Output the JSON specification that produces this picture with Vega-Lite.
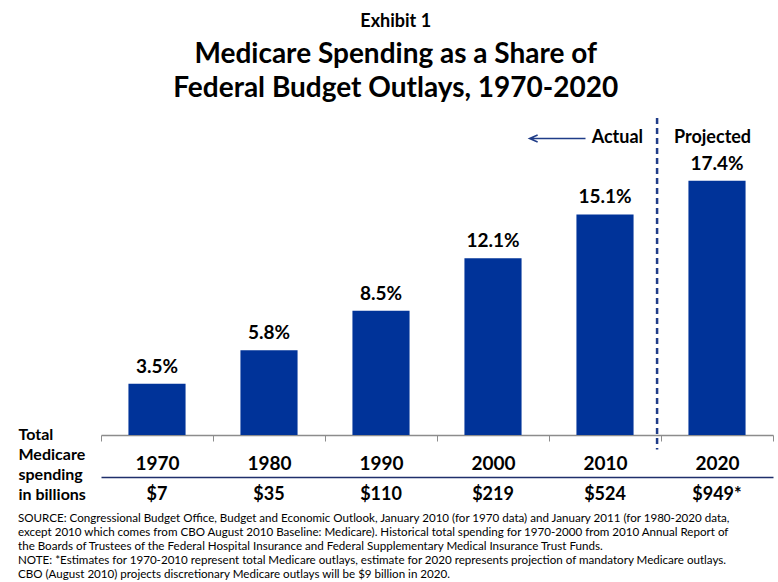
{
  "$schema": "https://vega.github.io/schema/vega-lite/v6.json",
  "padding": {"left": 18, "top": 12, "right": 5, "bottom": 0},
  "config": {"view": {"stroke": null}, "font": "Lato"},
  "datasets": {
    "m": [
      {"year": "1970", "share": 3.5, "spending": "$7"},
      {"year": "1980", "share": 5.8, "spending": "$35"},
      {"year": "1990", "share": 8.5, "spending": "$110"},
      {"year": "2000", "share": 12.1, "spending": "$219"},
      {"year": "2010", "share": 15.1, "spending": "$524"},
      {"year": "2020", "share": 17.4, "spending": "$949*"}
    ]
  },
  "title": {
    "text": [
      "SOURCE:  Congressional Budget Office, Budget and Economic Outlook, January 2010 (for 1970 data) and January 2011 (for 1980-2020 data,",
      "except 2010 which comes from CBO August 2010 Baseline: Medicare).  Historical total spending for 1970-2000 from 2010 Annual Report of",
      "the Boards of Trustees of the Federal Hospital Insurance and Federal Supplementary Medical Insurance Trust Funds.",
      "NOTE: *Estimates for 1970-2010 represent total Medicare outlays, estimate for 2020 represents projection of mandatory Medicare outlays.",
      "CBO (August 2010) projects discretionary Medicare outlays will be $9 billion in 2020."
    ],
    "orient": "bottom",
    "anchor": "start",
    "font": "Lato",
    "fontSize": 11.6,
    "fontWeight": "normal",
    "lineHeight": 14,
    "offset": 0,
    "color": "black"
  },
  "bounds": "flush",
  "spacing": 42,
  "vconcat": [
    {
      "width": 672,
      "height": 317,
      "data": {"name": "m"},
      "title": {
        "text": "Exhibit 1",
        "subtitle": ["Medicare Spending as a Share of", "Federal Budget Outlays, 1970-2020"],
        "anchor": "middle",
        "frame": "bounds",
        "font": "Lato",
        "fontSize": 18,
        "fontWeight": "bold",
        "color": "black",
        "subtitleFont": "Lato",
        "subtitleFontSize": 28,
        "subtitleFontWeight": "bold",
        "subtitleColor": "black",
        "subtitleLineHeight": 34,
        "subtitlePadding": 10,
        "offset": 14
      },
      "layer": [
        {
          "mark": {"type": "bar", "color": "#003399", "width": {"band": 0.51}},
          "encoding": {
            "x": {
              "field": "year", "type": "nominal",
              "scale": {"paddingInner": 0, "paddingOuter": 0},
              "axis": {
                "orient": "bottom", "title": null, "labelAngle": 0,
                "domainColor": "#8c8c8c", "domainWidth": 1.5,
                "tickColor": "#8c8c8c", "tickBand": "extent", "tickSize": 6,
                "labelFont": "Lato", "labelFontSize": 19, "labelFontWeight": "bold",
                "labelColor": "black", "labelPadding": 13
              }
            },
            "y": {
              "field": "share", "type": "quantitative",
              "scale": {"domain": [0, 21.7], "nice": false},
              "axis": {
                "domain": false, "ticks": false, "labels": false, "grid": false,
                "title": ["Total", "Medicare", "spending", "in billions"],
                "titleAngle": 0, "titleAlign": "left", "titleBaseline": "top",
                "titleX": -83, "titleY": 308,
                "titleFont": "Lato", "titleFontSize": 16, "titleFontWeight": "bold",
                "titleLineHeight": 20, "titleColor": "black"
              }
            }
          }
        },
        {
          "mark": {"type": "text", "baseline": "bottom", "dy": -7, "fontSize": 19, "fontWeight": "bold", "color": "black",
                   "text": {"expr": "format(datum.share, '.1f') + '%'"}},
          "encoding": {
            "x": {"field": "year", "type": "nominal"},
            "y": {"field": "share", "type": "quantitative"}
          }
        },
        {
          "data": {"values": [{}]},
          "mark": {"type": "rule", "strokeDash": [6, 4], "strokeWidth": 2.5, "color": "#1f3c88"},
          "encoding": {
            "x": {"datum": "2020", "bandPosition": -0.035},
            "y": {"datum": 21.7},
            "y2": {"datum": -1}
          }
        },
        {
          "data": {"values": [{}]},
          "mark": {"type": "text", "align": "right", "baseline": "middle", "fontSize": 18, "fontWeight": "bold", "color": "black", "text": "Actual"},
          "encoding": {
            "x": {"datum": "2010", "bandPosition": 0.84},
            "y": {"datum": 20.3}
          }
        },
        {
          "data": {"values": [{}]},
          "mark": {"type": "text", "align": "center", "baseline": "middle", "fontSize": 18, "fontWeight": "bold", "color": "black", "text": "Projected"},
          "encoding": {
            "x": {"datum": "2020", "bandPosition": 0.46},
            "y": {"datum": 20.3}
          }
        },
        {
          "data": {"values": [{}]},
          "mark": {"type": "point", "shape": "M-1,0L1,0M-0.71,-0.125L-1,0L-0.71,0.125", "size": 3136, "filled": false, "strokeWidth": 1.5, "color": "#1f3c88", "opacity": 1},
          "encoding": {
            "x": {"datum": "2010", "bandPosition": 0.076},
            "y": {"datum": 20.3}
          }
        }
      ]
    },
    {
      "width": 672,
      "height": 36,
      "data": {"name": "m"},
      "mark": {"type": "text", "fontSize": 18, "fontWeight": "bold", "baseline": "middle", "color": "black"},
      "encoding": {
        "x": {
          "field": "year", "type": "nominal",
          "scale": {"paddingInner": 0, "paddingOuter": 0},
          "axis": {"orient": "top", "domainColor": "#1f2f6b", "domainWidth": 1.5, "ticks": false, "labels": false, "title": null, "grid": false}
        },
        "text": {"field": "spending"}
      }
    }
  ]
}
